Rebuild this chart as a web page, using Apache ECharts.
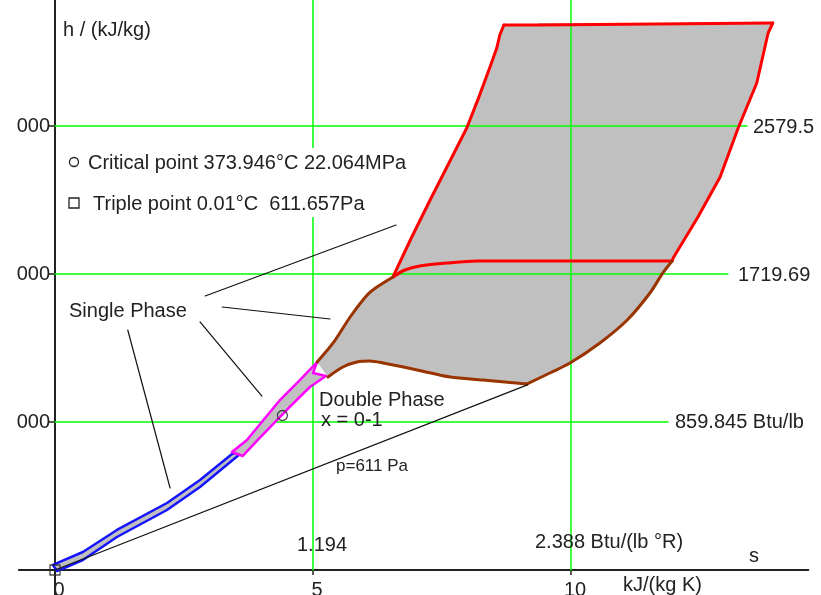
<!DOCTYPE html>
<html><head><meta charset="utf-8">
<script src="https://cdn.jsdelivr.net/npm/echarts@6/dist/echarts.min.js"></script>
<style>html,body{margin:0;padding:0;background:#fff}#c{width:821px;height:595px}</style>
</head><body><div id="c"></div>
<script>
// ---- data (s in kJ/(kg K), h in kJ/kg) ----
const xTickValues = [0, 5, 10];
const xTickLabels = ['0', '5', '10'];
const yTickValues = [2000, 4000, 6000];
const yTickLabels = ['000', '000', '000'];
const hGridValues = [2000, 4000, 6000];
const hGridEnds = [11.88, 13.04, 13.41];
const btuLabels = ['859.845 Btu/lb', '1719.69', '2579.5'];
const vGridValues = [5, 10];
const sBtuLabels = ['1.194', '2.388 Btu/(lb °R)'];
const criticalPoint = [4.407, 2087.5];
const triplePoint = [0, 0];
const isobar611 = [[0, 0], [9.155, 2500.9]];
const redLeft = [[6.55,3960],[6.90,4480],[7.27,5000],[7.62,5480],[7.98,5973],[8.22,6400],[8.43,6798],[8.56,7050],[8.62,7230],[8.70,7365]];
const redTop = [[8.70,7365],[9.36,7365],[9.36,7392],[13.91,7392]];
const redRight = [[13.91,7392],[13.82,7257],[13.60,6581],[13.24,5973],[12.89,5311],[12.46,4770],[11.98,4216],[11.96,4176]];
const redMiddle = [[6.55,3960],[6.78,4054],[7.07,4108],[7.60,4149],[8.18,4176],[11.96,4176]];
const brownLeft = [[5.08,2811],[5.39,3068],[5.72,3419],[6.05,3716],[6.24,3824],[6.55,3960]];
const brownRight = [[11.96,4176],[11.78,4014],[11.53,3743],[11.09,3378],[10.56,3068],[9.98,2797],[9.59,2662],[9.15,2514]];
const brownBottom = [[9.15,2514],[8.29,2568],[7.66,2608],[7.02,2703],[6.36,2797],[6.10,2824],[5.85,2811],[5.58,2743],[5.29,2608]];
const liquidBand = [
  [-0.04,68],[0.54,243],[1.20,541],[2.17,905],[2.81,1216],[3.43,1568],
  [3.68,1622],[2.81,1122],[2.17,811],[1.20,446],[0.54,135],[0.04,-14]
];
const nearCriticalBand = [
  [3.43,1595],[3.72,1757],[4.36,2297],[4.75,2568],[5.08,2811],
  [5.00,2662],[5.25,2622],
  [4.94,2473],[4.55,2203],[3.93,1757],[3.64,1541]
];
const pointerLines = [
  [[2.91,3703],[6.61,4662]],
  [[3.24,3554],[5.33,3392]],
  [[2.81,3352],[4.01,2351]],
  [[1.41,3243],[2.23,1108]]
];

const FONT = '"Liberation Sans", Arial, sans-serif';
const TXT = '#222';
const X_MIN = -0.7, X_MAX = 14.6, Y_MIN = -338, Y_MAX = 7703;
const G_LEFT = 18.88, G_RIGHT = 12.64, W = 821, H = 595;
const gridW = W - G_LEFT - G_RIGHT;
const yAxisOffset = -(0 - X_MIN) / (X_MAX - X_MIN) * gridW;   // place y axis at s = 0
const xAxisOffset = -(0 - Y_MIN) / (Y_MAX - Y_MIN) * H;       // place x axis at h = 0

const chart = echarts.init(document.getElementById('c'), null, {renderer: 'canvas'});

function line(data, color, width, z, smooth) {
  return {type: 'line', data, symbol: 'none', silent: true, z, animation: false, smooth: smooth || false,
    lineStyle: {color, width, cap: 'round', join: 'round'}};
}
function polygonSeries(points, fill, stroke, lw, z) {
  return {type: 'custom', coordinateSystem: 'cartesian2d', silent: true, z, data: [[0, 0]],
    renderItem: (params, api) => ({
      type: 'polygon',
      shape: {points: points.map(p => api.coord(p))},
      style: {fill, stroke, lineWidth: lw, lineJoin: 'round'}
    })};
}
function text(t, x, y, opts) {
  opts = opts || {};
  const align = opts.align || 'left';
  return {type: 'text', z: 100, style: {
    text: t, x, y, fill: TXT, font: (opts.size || 20) + 'px ' + FONT,
    align, textAlign: align, verticalAlign: 'middle', textVerticalAlign: 'middle'
  }};
}

const mainRegion = [].concat(brownLeft, redLeft.slice(1), redTop.slice(1), redRight.slice(1),
  brownRight.slice(1), brownBottom.slice(1));

const series = [];
series.push(polygonSeries(mainRegion, '#c0c0c0', null, 0, 1));
hGridValues.forEach((h, i) => series.push(line([[0, h], [hGridEnds[i], h]], '#00ff00', 1.5, 2)));
vGridValues.forEach(s => series.push(line([[s, 0], [s, Y_MAX]], '#00ff00', 1.5, 2)));
series.push(polygonSeries(liquidBand, '#c0c0c0', '#1414ff', 2.5, 3));
series.push(polygonSeries(nearCriticalBand, '#c0c0c0', '#ff00ff', 2.5, 3));
series.push(line(redLeft, '#ff0000', 3, 4));
series.push(line(redTop, '#ff0000', 3, 4));
series.push(line(redRight, '#ff0000', 3, 4));
series.push(line(redMiddle, '#ff0000', 3, 4, 0.3));
series.push(line(brownLeft, '#993300', 3, 4, 0.3));
series.push(line(brownRight, '#993300', 3, 4, 0.3));
series.push(line(brownBottom, '#993300', 3, 4, 0.3));
series.push(line(isobar611, '#111', 1.2, 4));
pointerLines.forEach(p => series.push(line(p, '#111', 1.2, 4)));
series.push({type: 'scatter', data: [criticalPoint], symbol: 'circle', symbolSize: 10, z: 6, silent: true,
  itemStyle: {color: 'rgba(0,0,0,0)', borderColor: '#222', borderWidth: 1.3}});
series.push({type: 'scatter', data: [triplePoint], symbol: 'rect', symbolSize: 10, z: 6, silent: true,
  itemStyle: {color: 'rgba(0,0,0,0)', borderColor: '#222', borderWidth: 1.3}});

const graphics = [
  text('h / (kJ/kg)', 63, 30),
  {type: 'rect', z: 90, shape: {x: 64, y: 148, width: 352, height: 69}, style: {fill: '#fff'}},
  {type: 'circle', z: 100, shape: {cx: 74, cy: 162, r: 4.5}, style: {fill: '#fff', stroke: TXT, lineWidth: 1.3}},
  text('Critical point 373.946°C 22.064MPa', 88, 163),
  {type: 'rect', z: 100, shape: {x: 69, y: 198, width: 10, height: 10}, style: {fill: '#fff', stroke: TXT, lineWidth: 1.3}},
  text('Triple point 0.01°C  611.657Pa', 93, 204),
  text('Single Phase', 69, 311),
  text('Double Phase', 319, 400),
  text('x = 0-1', 321, 420),
  text('p=611 Pa', 336, 466, {size: 17}),
  text(sBtuLabels[0], 322, 545, {align: 'center'}),
  text(sBtuLabels[1], 535, 542),
  text('s', 754, 556, {align: 'center'}),
  text('kJ/(kg K)', 623, 585),
  text(btuLabels[2], 753, 127),
  text(btuLabels[1], 738, 275),
  text(btuLabels[0], 675, 422)
];

chart.setOption({
  animation: false,
  backgroundColor: '#fff',
  grid: {left: G_LEFT, right: G_RIGHT, top: 0, bottom: 0, containLabel: false, outerBoundsMode: 'none'},
  xAxis: {
    type: 'value', min: X_MIN, max: X_MAX, position: 'bottom', offset: xAxisOffset,
    axisLine: {onZero: false, lineStyle: {color: '#222', width: 2}},
    axisTick: {customValues: [5, 10], length: 5, lineStyle: {color: '#222', width: 1.5}},
    axisLabel: {customValues: xTickValues, formatter: v => xTickLabels[xTickValues.indexOf(v)],
      fontSize: 20, fontFamily: FONT, color: TXT, margin: 10, padding: [0, 0, 0, 8]},
    splitLine: {show: false}
  },
  yAxis: {
    type: 'value', min: Y_MIN, max: Y_MAX, position: 'left', offset: yAxisOffset,
    axisLine: {onZero: false, lineStyle: {color: '#222', width: 2}},
    axisTick: {customValues: yTickValues, length: 7, lineStyle: {color: '#222', width: 1.5}},
    axisLabel: {customValues: yTickValues, formatter: v => yTickLabels[yTickValues.indexOf(v)],
      fontSize: 20, fontFamily: FONT, color: TXT, margin: 5, padding: [4, 0, 0, 0]},
    splitLine: {show: false}
  },
  series,
  graphic: graphics
});
</script></body></html>
